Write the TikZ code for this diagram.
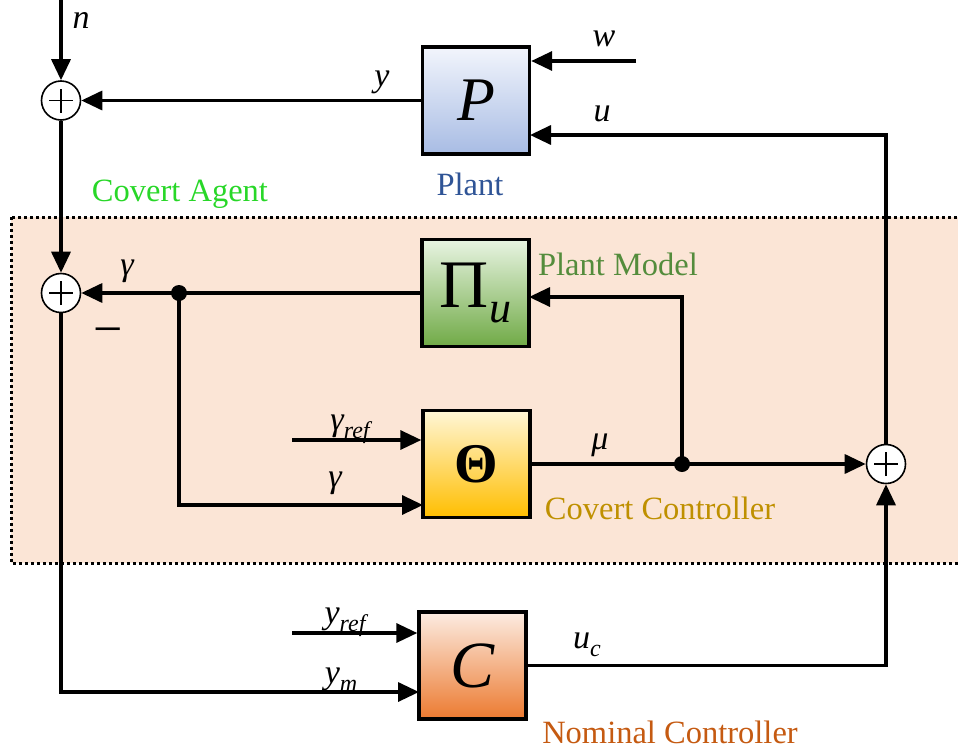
\documentclass[tikz,border=0pt]{standalone}
\usepackage{fontspec}
\setmainfont{Liberation Serif}
\usetikzlibrary{arrows.meta,calc}
\definecolor{peach}{RGB}{251,229,214}
\definecolor{plantblue}{RGB}{47,84,150}
\definecolor{agentgreen}{RGB}{40,215,40}
\definecolor{modelgreen}{RGB}{84,140,60}
\definecolor{ctrlgold}{RGB}{191,144,0}
\definecolor{nomorange}{RGB}{197,90,17}
\newcommand{\fsz}[1]{\fontsize{#1}{#1}\selectfont}
\newcommand{\subtxt}[1]{\raisebox{-8pt}{\fsz{24}\itshape #1}}
\tikzset{
  wire/.style={line width=3.4pt},
  arr/.style={wire,-{Triangle[length=21pt,width=19pt]}},
  blk/.style={draw,line width=3.4pt,inner sep=0pt,minimum width=107pt,minimum height=107pt},
  sumnode/.style={circle,draw,line width=1.6pt,minimum size=39pt,inner sep=0pt,fill=white,
    path picture={\draw[line width=1.6pt] ($(path picture bounding box.center)+(-12pt,0)$) -- ($(path picture bounding box.center)+(12pt,0)$)
      ($(path picture bounding box.center)+(0,-12pt)$) -- ($(path picture bounding box.center)+(0,12pt)$);}},
  dotnode/.style={circle,fill=black,inner sep=0pt,minimum size=16pt},
  lbl/.style={anchor=base,inner sep=0pt,font=\fsz{34}\itshape},
  txt/.style={anchor=base,inner sep=0pt,font=\fsz{32.5}},
}
\begin{document}
\begin{tikzpicture}[x=1pt,y=-1pt]
\useasboundingbox (0,0) rectangle (958,750);
% covert agent region
\fill[peach] (11,217) rectangle (966,563);
\draw[line width=3pt,dash pattern=on 3pt off 3pt] (11,217) rectangle (966,563);

% blocks
\node[blk,top color={rgb,255:red,242;green,245;blue,252},bottom color={rgb,255:red,168;green,188;blue,228}] (P) at (476,100.5) {\fsz{62}\itshape P};
\node[blk,top color={rgb,255:red,232;green,244;blue,226},bottom color={rgb,255:red,112;green,170;blue,70}] (Pi) at (475.5,293) {\fsz{68}\textup{Π}\raisebox{-15pt}{\fsz{44}\itshape u}};
\node[blk,top color={rgb,255:red,255;green,246;blue,214},bottom color={rgb,255:red,255;green,190;blue,0}] (T) at (476.5,464) {\fsz{56}\bfseries Θ};
\node[blk,top color={rgb,255:red,252;green,236;blue,226},bottom color={rgb,255:red,236;green,122;blue,48}] (C) at (472.5,665.5) {\fsz{66}\itshape C};

% summing junctions
\node[sumnode] (s1) at (61,100.5) {};
\node[sumnode] (s2) at (61,293) {};
\node[sumnode] (s3) at (886,464) {};

% branch points and free ends
\node[dotnode] (d1) at (179,293) {};
\node[dotnode] (d2) at (682,464) {};
\coordinate (nin) at (61,0);
\coordinate (win) at (636,61);
\coordinate (uin) at (530,135);
\coordinate (piin) at (529,297);
\coordinate (grs) at (292,440);
\coordinate (gin) at (423,505);
\coordinate (yrs) at (292,633);
\coordinate (ymin) at (419,692);

% connectors
\draw[arr] (nin) -- (s1.north);
\draw[arr] (P.west) -- (s1.east);
\draw[arr] (win) -- (win -| P.east);
\draw[arr] (s3.north) |- (uin);
\draw[arr] (s1.south) -- (s2.north);
\draw[arr] (Pi.west) -- (s2.east);
\draw[arr] (d1.center) |- (gin);
\draw[arr] (grs) -- (grs -| T.west);
\draw[arr] (T.east) -- (s3.west);
\draw[arr] (d2.center) |- (piin);
\draw[arr] (s2.south) |- (ymin);
\draw[arr] (yrs) -- (yrs -| C.west);
\draw[arr] (C.east) -| (s3.south);

% labels
\node[lbl] (ln) at (81,28) {n};
\node[lbl] (ly) at (382,86) {y};
\node[lbl] (lw) at (604,46) {w};
\node[lbl] (lu) at (602,121) {u};
\node[txt,text=plantblue] (lplant) at (470,195) {Plant};
\node[txt,text=agentgreen] (lagent) at (180,201) {Covert Agent};
\node[lbl] (lg1) at (127,275) {γ};
\node[anchor=base,inner sep=0pt,font=\fsz{52}] (lminus) at (108,346) {−};
\node[txt,text=modelgreen] (lmodel) at (618,275) {Plant Model};
\node[lbl] (lgref) at (350,430) {γ\subtxt{ref}};
\node[lbl] (lg2) at (335,487) {γ};
\node[lbl] (lmu) at (600,449) {μ};
\node[txt,text=ctrlgold] (lcc) at (660,519) {Covert Controller};
\node[lbl] (lyref) at (345,623) {y\subtxt{ref}};
\node[lbl] (lym) at (341,683) {y\subtxt{m}};
\node[lbl] (luc) at (587,648) {u\subtxt{c}};
\node[txt,text=nomorange] (lnc) at (670,743) {Nominal Controller};
\end{tikzpicture}
\end{document}
